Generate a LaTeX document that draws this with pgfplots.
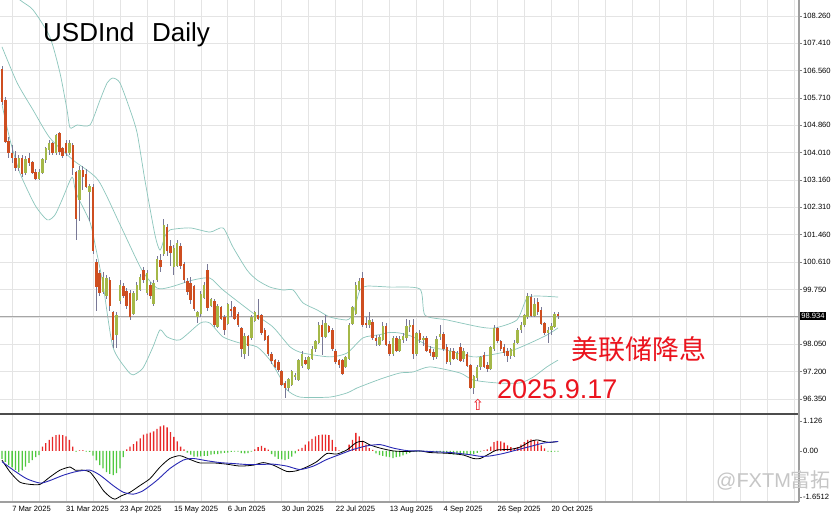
\documentclass[border=0pt]{standalone}
\usepackage{pgfplots}
\pgfplotsset{compat=1.18}
\usepackage{pgfplotstable}
\usepackage{fontspec}
\setmainfont{Liberation Sans}
\newfontfamily\cjk{Noto Sans CJK SC}
\newfontfamily\dejavu{DejaVu Sans}
\definecolor{bull}{RGB}{164,184,72}
\definecolor{bear}{RGB}{206,78,32}
\definecolor{wick}{RGB}{120,120,150}
\definecolor{band}{RGB}{140,198,188}
\definecolor{gridc}{RGB}{228,228,228}
\definecolor{hred}{RGB}{232,40,40}
\definecolor{hgreen}{RGB}{80,200,64}
\definecolor{sigblue}{RGB}{40,40,180}
\definecolor{txtred}{RGB}{235,20,30}
\newcommand{\tickfont}{\fontsize{7.6}{8}\selectfont}

\pgfplotstableread{
i O H L C
0 106.60 106.70 105.50 105.60
1 105.65 105.75 104.30 104.35
2 104.35 104.50 103.85 104.00
3 104.00 104.25 103.70 103.85
4 103.85 104.05 103.45 103.55
5 103.55 103.95 103.45 103.85
6 103.85 103.95 103.25 103.35
7 103.40 103.90 103.30 103.80
8 103.85 104.00 103.60 103.70
9 103.70 103.75 103.35 103.40
10 103.40 103.50 103.15 103.20
11 103.20 103.50 103.15 103.40
12 103.40 103.85 103.35 103.80
13 103.80 104.20 103.70 104.15
14 104.10 104.40 103.95 104.30
15 104.30 104.35 103.95 104.00
16 104.00 104.60 103.95 104.55
17 104.60 104.65 103.95 104.05
18 104.15 104.20 103.85 103.90
19 104.30 104.40 103.90 104.00
20 104.00 104.40 103.95 104.30
21 104.25 104.30 103.30 103.55
22 103.40 103.45 101.30 101.95
23 102.55 103.60 101.90 103.45
24 103.45 103.60 102.85 103.25
25 103.35 103.50 102.90 102.95
26 102.80 103.05 101.90 102.95
27 102.95 103.05 100.85 100.95
28 100.60 100.70 99.10 99.85
29 100.25 100.35 99.55 99.65
30 99.70 100.30 99.60 100.15
31 99.55 100.20 99.45 100.10
32 100.05 100.15 99.10 99.25
33 99.05 99.10 97.95 98.20
34 98.35 99.05 97.95 98.95
35 99.40 100.05 99.30 99.90
36 99.85 99.95 99.50 99.55
37 99.70 99.80 99.15 99.25
38 99.65 99.75 98.80 98.90
39 99.00 99.70 98.95 99.65
40 99.45 100.00 99.40 99.90
41 99.75 100.25 99.70 100.15
42 100.35 100.45 99.95 100.05
43 99.65 100.35 99.60 100.25
44 99.90 100.00 99.45 99.55
45 99.30 100.05 99.25 99.95
46 100.05 100.80 100.00 100.70
47 100.67 100.85 100.30 100.45
48 100.88 101.95 100.80 101.75
49 101.70 101.80 100.80 100.95
50 101.10 101.30 100.50 100.90
51 100.45 101.15 100.20 101.05
52 100.50 101.30 100.45 101.20
53 101.10 101.20 100.40 100.50
54 100.55 100.60 99.95 100.05
55 100.00 100.10 99.60 99.70
56 99.95 100.15 99.30 99.45
57 99.85 99.90 99.10 99.15
58 98.92 99.10 98.70 99.05
59 99.00 99.70 98.90 99.60
60 99.50 100.00 99.45 99.90
61 100.35 100.55 99.10 99.20
62 99.25 99.50 99.20 99.45
63 99.40 99.45 98.60 98.65
64 98.60 99.30 98.55 99.25
65 99.20 99.25 98.80 98.85
66 98.90 98.95 98.35 98.50
67 98.70 99.35 98.65 99.30
68 99.15 99.40 98.90 99.10
69 99.20 99.25 98.80 98.85
70 99.00 99.05 98.60 98.65
71 98.55 98.60 97.65 97.90
72 97.75 98.40 97.60 98.30
73 98.30 98.35 97.70 98.00
74 98.25 98.95 98.20 98.90
75 98.80 99.10 98.75 99.05
76 98.95 99.45 98.80 98.85
77 98.95 99.00 98.35 98.40
78 98.50 98.55 98.15 98.20
79 98.30 98.35 97.70 97.75
80 97.75 97.80 97.45 97.55
81 97.55 97.60 97.30 97.35
82 97.50 97.55 97.20 97.25
83 97.20 97.25 96.75 96.80
84 96.85 96.90 96.37 96.70
85 96.70 97.00 96.60 96.95
86 96.80 97.25 96.75 97.20
87 97.05 97.15 96.95 97.10
88 96.95 97.60 96.90 97.55
89 97.40 97.85 97.30 97.75
90 97.55 97.65 97.40 97.45
91 97.30 97.70 97.25 97.65
92 97.60 98.00 97.55 97.90
93 97.90 98.20 97.80 98.15
94 98.10 98.75 98.05 98.65
95 98.65 98.80 97.72 98.30
96 98.30 98.95 98.25 98.70
97 98.60 98.65 98.40 98.45
98 98.50 98.55 97.85 97.90
99 97.85 97.90 97.45 97.50
100 97.55 97.60 97.30 97.40
101 97.55 97.60 97.10 97.15
102 97.35 97.70 97.30 97.65
103 97.60 98.70 97.55 98.65
104 98.70 99.25 98.65 99.20
105 99.00 99.98 98.95 99.90
106 99.75 100.10 99.70 100.00
107 100.10 100.30 98.60 98.65
108 98.70 98.90 98.55 98.65
109 98.65 99.07 98.55 98.80
110 98.75 98.85 98.20 98.25
111 98.25 98.35 98.00 98.15
112 98.05 98.35 98.00 98.28
113 98.20 98.75 98.15 98.60
114 98.60 98.70 98.00 98.05
115 98.05 98.15 97.70 97.75
116 97.75 98.30 97.70 98.25
117 98.25 98.30 97.80 97.85
118 97.85 98.30 97.80 98.20
119 98.20 98.40 98.10 98.30
120 98.25 98.85 98.15 98.60
121 98.60 98.80 98.45 98.65
122 98.65 98.85 97.60 97.75
123 97.75 98.45 97.70 98.40
124 98.40 98.50 98.10 98.20
125 98.20 98.30 98.00 98.25
126 98.25 98.30 97.80 97.85
127 97.90 98.00 97.70 97.78
128 97.80 97.90 97.55 97.65
129 97.65 98.30 97.60 98.20
130 98.30 98.65 98.20 98.35
131 98.35 98.45 97.85 97.90
132 97.95 98.05 97.45 97.50
133 97.50 97.95 97.40 97.85
134 97.85 97.95 97.55 97.60
135 97.60 97.85 97.55 97.78
136 97.95 98.10 97.50 97.55
137 97.60 97.95 97.50 97.85
138 97.75 97.80 97.35 97.40
139 97.40 97.45 96.65 96.70
140 96.70 97.10 96.50 97.05
141 97.00 97.40 96.90 97.35
142 97.35 97.70 97.25 97.65
143 97.70 97.80 97.30 97.35
144 97.40 97.50 97.20 97.30
145 97.30 98.00 97.25 97.95
146 97.90 98.65 97.85 98.55
147 98.55 98.60 98.10 98.15
148 98.15 98.20 97.85 97.90
149 97.95 98.05 97.70 97.78
150 97.85 97.95 97.50 97.70
151 97.70 97.95 97.60 97.90
152 97.70 98.20 97.65 98.10
153 98.10 98.55 98.05 98.50
154 98.50 98.75 98.40 98.65
155 98.65 99.00 98.60 98.95
156 98.90 99.65 98.85 99.55
157 99.50 99.60 98.90 98.95
158 98.95 99.50 98.90 99.30
159 99.35 99.48 98.95 99.05
160 99.10 99.20 98.65 98.70
161 98.70 98.75 98.35 98.40
162 98.40 98.60 98.10 98.50
163 98.50 98.70 98.35 98.60
164 98.60 99.05 98.55 99.00
165 99.00 99.05 98.85 98.934
}\candles

\begin{document}
\begin{tikzpicture}
\path[use as bounding box] (0,0) rectangle (832pt,514pt);
\fill[white] (0,0) rectangle (832pt,514pt);

% ---------------- main price panel ----------------
\begin{axis}[
  at={(0pt,101pt)}, anchor=south west,
  scale only axis, width=799pt, height=413pt,
  xmin=-0.593, xmax=236.5, ymin=95.915, ymax=108.757,
  axis line style={draw=none},
  xtick={3,11,...,235}, xticklabels={},
  xtick style={draw=none},
  ytick={96.35,97.2,98.05,98.9,99.75,100.61,101.46,102.31,103.16,104.01,104.86,105.71,106.56,107.41,108.26},
  yticklabels={96.350,97.200,98.050,{},99.750,100.610,101.460,102.310,103.160,104.010,104.860,105.710,106.560,107.410,108.260},
  yticklabel pos=right,
  ytick style={draw=gray, line width=0.5pt},
  tick align=outside, major tick length=3pt,
  yticklabel style={font=\tickfont, anchor=west, inner sep=0pt, xshift=1pt},
  grid=major, major grid style={gridc, line width=0.6pt},
]
% Bollinger bands
\addplot[band, line width=0.7pt, smooth, tension=0.4] coordinates {
(0,109.3) (5.3,108.76) (9.2,108.45) (14.2,107.61) (17.2,106.49) (19.3,105.34) (20.2,104.78) (22.3,104.87) (26.1,104.87) (29.1,105.65) (31.2,106.18) (32.9,106.33) (35.0,106.18) (38.0,105.34) (40.1,104.62) (42.4,103.16) (45.4,101.45) (46.9,100.98) (48.4,101.42) (49.9,101.61) (55.8,101.67) (61.7,101.54) (65.6,101.67) (68.5,101.08) (72.7,100.36) (75.7,100.05) (79.5,99.83) (83.4,99.74) (86.4,99.74) (89.3,99.34) (93.5,99.12) (97.3,98.9) (102.4,98.81) (104.2,99.02) (106.2,99.74) (108.3,99.86) (115.1,99.83) (124.0,99.77) (125.5,98.96) (132.0,98.81) (141.8,98.59) (146.3,98.56) (152.8,98.81) (155.8,99.49) (159.6,99.55) (165,99.52)};
\addplot[band, line width=0.7pt, smooth, tension=0.4] coordinates {
(0,107.3) (4.5,106.18) (9.2,105.34) (14.2,104.47) (21.1,103.78) (28.5,103.16) (35,101.78) (41.5,100.36) (46.0,99.8) (49.9,99.83) (56.7,100.05) (61.7,100.11) (65.6,99.74) (74.5,99.02) (80.4,98.59) (85.5,97.97) (89.3,97.78) (97.3,97.66) (102.4,97.78) (107.1,98.25) (112,98.35) (115,98.42) (118.1,98.4) (122.0,98.28) (127.0,97.97) (132.0,97.87) (139.8,97.66) (144.8,97.72) (151.6,97.87) (156.7,98.09) (161.7,98.34) (165,98.56)};
\addplot[band, line width=0.7pt, smooth, tension=0.4] coordinates {
(0,105.5) (2.4,104.4) (5.3,103.38) (9.8,102.38) (13.4,101.92) (15.7,102.07) (17.8,102.54) (20.8,103.25) (22,102.75) (26.1,101.85) (27.9,101.01) (30,99.9) (32.9,97.97) (37.1,97.25) (38.9,97.1) (41.8,97.31) (44.8,97.97) (46.9,98.5) (49,98.28) (52.8,98.19) (58.8,98.71) (61.7,98.71) (65.6,98.28) (70.6,98.09) (75.7,97.97) (79.5,97.56) (82.5,97.03) (84.6,96.63) (88.4,96.41) (97.3,96.41) (102.4,96.54) (105.3,96.69) (109.2,96.85) (113.1,97.0) (118.1,97.16) (122,97.19) (127,97.35) (135.9,97.16) (139.8,96.94) (146.9,96.85) (153.7,96.85) (157.6,97.03) (161.7,97.35) (165,97.56)};
% bid line
\addplot[gray!70, line width=0.5pt] coordinates {(-1,98.934) (240,98.934)};
% wicks
\addplot[draw=none, mark=none, error bars/.cd, y dir=both, y explicit, error mark=none,
  error bar style={draw=wick, line width=0.8pt}]
  table[x=i, y expr={(\thisrow{H}+\thisrow{L})/2}, y error expr={(\thisrow{H}-\thisrow{L})/2}] {\candles};
% bullish bodies
\addplot[draw=none, mark=none, error bars/.cd, y dir=both, y explicit, error mark=none,
  error bar style={draw=bull, line width=2.5pt}]
  table[x=i, y expr={\thisrow{C}>=\thisrow{O} ? (\thisrow{O}+\thisrow{C})/2 : nan}, y error expr={abs(\thisrow{C}-\thisrow{O})/2+0.008}] {\candles};
% bearish bodies
\addplot[draw=none, mark=none, error bars/.cd, y dir=both, y explicit, error mark=none,
  error bar style={draw=bear, line width=2.5pt}]
  table[x=i, y expr={\thisrow{C}<\thisrow{O} ? (\thisrow{O}+\thisrow{C})/2 : nan}, y error expr={abs(\thisrow{C}-\thisrow{O})/2+0.008}] {\candles};
\end{axis}

% ---------------- MACD panel ----------------
\begin{axis}[
  at={(0pt,12pt)}, anchor=south west,
  scale only axis, width=799pt, height=87pt,
  xmin=-0.593, xmax=236.5, ymin=-1.62, ymax=1.14,
  axis line style={draw=none},
  xtick={3,11,...,235},
  xticklabels={{7 Mar 2025},{},{31 Mar 2025},{},{23 Apr 2025},{},{15 May 2025},{},{6 Jun 2025},{},{30 Jun 2025},{},{22 Jul 2025},{},{13 Aug 2025},{},{4 Sep 2025},{},{26 Sep 2025},{},{20 Oct 2025},{},{},{},{},{},{},{},{},{}},
  xtick style={draw=none},
  xticklabel style={font=\tickfont, anchor=north west, inner sep=0pt, yshift=-0.5pt},
  xmajorgrids, major grid style={gridc, line width=0.6pt},
  ytick={0.95,0,-1.462}, yticklabels={1.126,0.00,-1.6512},
  yticklabel pos=right,
  ytick style={draw=gray, line width=0.5pt},
  tick align=outside, major tick length=3pt,
  yticklabel style={font=\tickfont, anchor=west, inner sep=0pt, xshift=1pt},
]
\addplot[ybar, bar width=1.3pt, bar shift=0pt, fill=hred, draw=none] coordinates {
(12,0.14) (13,0.25) (14,0.35) (15,0.45) (16,0.50) (17,0.52) (18,0.50) (19,0.46) (20,0.35) (21,0.14)
(23,0.02) (24,0.02)
(37,0.05) (38,0.14) (39,0.22) (40,0.30) (41,0.40) (42,0.52) (43,0.55) (44,0.58) (45,0.62) (46,0.70) (47,0.78) (48,0.81) (49,0.75) (50,0.60) (51,0.45) (52,0.30) (53,0.14) (54,0.05)
(75,0.05) (76,0.12) (77,0.16) (78,0.10) (79,0.04)
(88,0.05) (89,0.10) (90,0.20) (91,0.30) (92,0.38) (93,0.46) (94,0.50) (95,0.52) (96,0.52) (97,0.50) (98,0.35) (99,0.12) (100,0.02) (102,0.02)
(103,0.20) (104,0.35) (105,0.57) (106,0.46) (107,0.33) (108,0.20) (109,0.09) (110,0.03)
(143,0.02) (144,0.05) (145,0.14) (146,0.28) (147,0.32) (148,0.30) (149,0.26) (150,0.18) (151,0.12) (152,0.09) (153,0.12) (154,0.20) (155,0.28) (156,0.35) (157,0.37) (158,0.34) (159,0.30) (160,0.18) (161,0.08)};
\addplot[ybar, bar width=1.3pt, bar shift=0pt, fill=hgreen, draw=none] coordinates {
(0,-0.25) (1,-0.35) (2,-0.45) (3,-0.52) (4,-0.60) (5,-0.67) (6,-0.62) (7,-0.50) (8,-0.38) (9,-0.29) (10,-0.20) (11,-0.13)
(22,-0.02) (25,-0.02) (26,-0.03)
(27,-0.15) (28,-0.30) (29,-0.45) (30,-0.55) (31,-0.67) (32,-0.73) (33,-0.77) (34,-0.70) (35,-0.55) (36,-0.20)
(55,-0.05) (56,-0.12) (57,-0.18) (58,-0.18) (59,-0.17) (60,-0.16) (61,-0.16) (62,-0.12) (63,-0.10) (64,-0.10) (65,-0.08) (66,-0.06) (67,-0.05) (68,-0.03) (69,-0.02) (70,-0.02) (71,-0.07) (72,-0.08) (73,-0.07) (74,-0.02)
(80,-0.10) (81,-0.18) (82,-0.25) (83,-0.27) (84,-0.29) (85,-0.25) (86,-0.18) (87,-0.08)
(101,-0.02)
(111,-0.08) (112,-0.13) (113,-0.16) (114,-0.18) (115,-0.20) (116,-0.23) (117,-0.20) (118,-0.18) (119,-0.14) (120,-0.10) (121,-0.06)
(122,-0.02) (123,-0.03) (124,-0.02) (125,-0.03) (126,-0.02) (127,-0.03) (128,-0.02) (129,-0.03) (130,-0.03)
(131,-0.05) (132,-0.08) (133,-0.10) (134,-0.12) (135,-0.12) (136,-0.13) (137,-0.12) (138,-0.10) (139,-0.12) (140,-0.10) (141,-0.06) (142,-0.02)
(162,-0.02) (163,-0.03) (164,-0.02) (165,-0.02)};
\addplot[black, line width=0.8pt, smooth, tension=0.4] coordinates {
(0,-0.29) (2.4,-0.67) (5.3,-0.99) (8.3,-1.06) (11.3,-1.06) (14.2,-0.83) (17.2,-0.61) (20.2,-0.51) (21.7,-0.61) (24.1,-0.61) (26.1,-0.67) (28.1,-0.94) (30.1,-1.26) (32,-1.45) (33.5,-1.53) (35.5,-1.42) (38,-1.31) (40.9,-1.10) (43.9,-0.88) (46.9,-0.51) (49.8,-0.24) (52.8,-0.15) (55.8,-0.27) (58.7,-0.38) (62.7,-0.38) (66.7,-0.42) (70.6,-0.48) (74.6,-0.45) (77.5,-0.37) (80.5,-0.45) (84.5,-0.65) (87.4,-0.63) (90.4,-0.51) (93.4,-0.34) (96.4,-0.08) (99.3,-0.10) (102.3,0.03) (105.2,0.27) (107.2,0.30) (109.2,0.19) (112.2,0.09) (116.1,0) (120.1,-0.02) (124,0) (127,-0.05) (133,-0.08) (136.9,-0.13) (139.9,-0.24) (141.9,-0.24) (144.8,-0.08) (146.8,0.03) (150.8,0.05) (153.7,0.12) (156.7,0.30) (158.7,0.35) (160.7,0.30) (162.6,0.27) (165,0.30)};
\addplot[sigblue, line width=0.9pt, smooth, tension=0.4] coordinates {
(0,-0.34) (3.4,-0.61) (7.3,-0.88) (11.3,-1.02) (14.2,-0.94) (18.2,-0.77) (22.2,-0.65) (26.1,-0.61) (29.1,-0.77) (33,-1.10) (36,-1.31) (39,-1.37) (41.9,-1.26) (45.9,-0.94) (49.8,-0.56) (53.8,-0.29) (56.8,-0.24) (60.7,-0.31) (64.7,-0.37) (68.7,-0.40) (72.6,-0.43) (76.6,-0.43) (80.5,-0.42) (84.5,-0.48) (88.4,-0.59) (92.4,-0.48) (96.4,-0.27) (100.3,-0.11) (104.3,0.05) (108.2,0.16) (112.2,0.2) (116.1,0.09) (120.1,0.01) (124,0) (127,-0.02) (133,-0.05) (138.9,-0.12) (141.9,-0.17) (144.8,-0.16) (148.8,-0.08) (152.7,0.03) (156.7,0.14) (160.7,0.25) (165,0.30)};
\end{axis}

% frame lines
\draw[gray!60!black, line width=1.6pt] (0,100pt) -- (799pt,100pt);
\draw[gray!75, line width=1.2pt] (0,12pt) -- (799pt,12pt);
\draw[gray!75, line width=1.6pt] (799pt,12pt) -- (799pt,514pt);

% texts
\node[anchor=base west, inner sep=0pt, font=\fontsize{26}{30}\selectfont] at (43pt,472pt) {USDInd};
\node[anchor=base west, inner sep=0pt, font=\fontsize{26}{30}\selectfont] at (152pt,472pt) {Daily};
\node[anchor=west, inner sep=0pt, text=txtred, font=\cjk\fontsize{27}{30}\selectfont] at (571pt,165pt) {美联储降息};
\node[anchor=base west, inner sep=0pt, text=txtred, font=\fontsize{27}{30}\selectfont] at (497pt,115pt) {2025.9.17};
\node[inner sep=0pt, text=txtred, font=\dejavu\fontsize{15}{16}\selectfont] at (478pt,109pt) {⇧};
\node[anchor=west, fill=black, text=white, inner sep=1.2pt, font=\tickfont] at (800pt,198pt) {98.934};
\node[anchor=west, inner sep=0pt, text=gray!45, font=\fontsize{20}{22}\selectfont] at (716pt,34pt) {@FXTM{\cjk 富拓}};
\end{tikzpicture}
\end{document}
